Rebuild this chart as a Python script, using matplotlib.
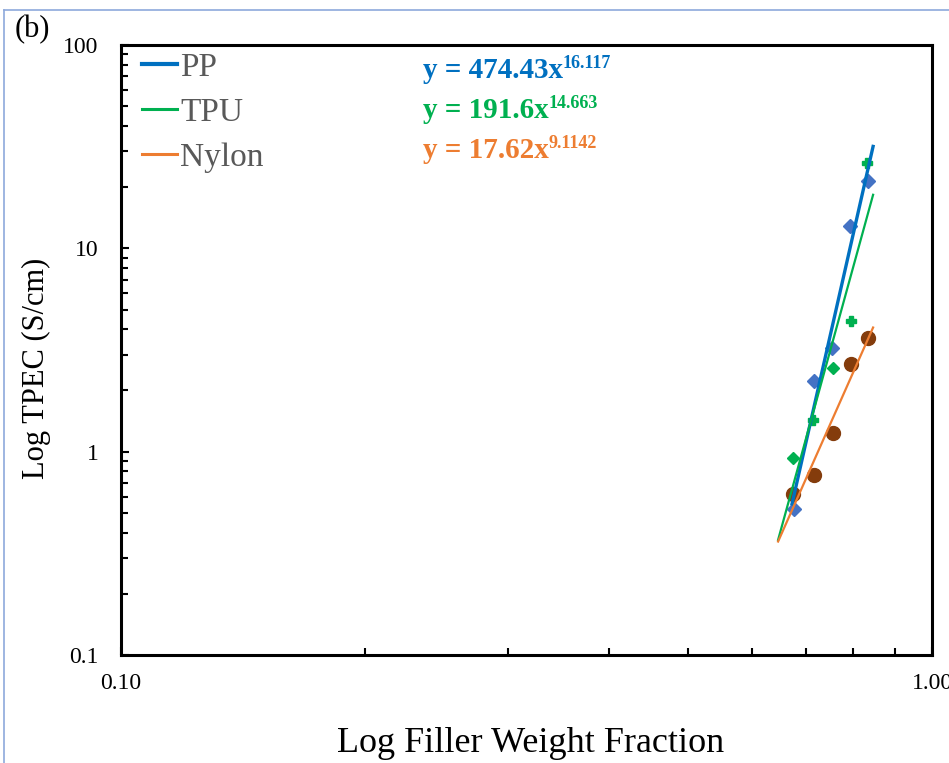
import numpy as np
import matplotlib
matplotlib.use('Agg')
from matplotlib import pyplot as plt
from matplotlib.lines import Line2D
from matplotlib.ticker import FixedLocator, FixedFormatter, LogLocator, NullFormatter

plt.rcParams['font.family'] = ['Liberation Serif', 'DejaVu Serif']

# filler weight fraction / TPEC (S/cm)
pp_x = [0.676, 0.715, 0.753, 0.793, 0.834]
pp_y = [0.52, 2.23, 3.24, 12.9, 21.4]
tpu_x = [0.674, 0.713, 0.755, 0.795, 0.832]
tpu_y = [0.93, 1.43, 2.58, 4.39, 26.3]
nylon_x = [0.674, 0.715, 0.755, 0.795, 0.833]
nylon_y = [0.62, 0.77, 1.24, 2.70, 3.62]

names = ['PP', 'TPU', 'Nylon']
eq_main = ['y = 474.43x', 'y = 191.6x', 'y = 17.62x']
eq_exp = ['16.117', '14.663', '9.1142']
line_cols = ['#0070C0', '#00B050', '#ED7D31']
mark_cols = ['#4472C4', '#00B050', '#843C0C']
# marker shape per point (the TPU points in the original mix two shapes)
markers = [['D'] * 5, ['D', 'P', 'D', 'P', 'P'], ['o'] * 5]
msizes = [7, 6.5, 10]
lws = [2.4, 1.6, 1.6]
# trendline ranges (Excel forecast)
fit_range = [(0.672, 0.846), (0.646, 0.846), (0.646, 0.846)]

fig = plt.figure(figsize=(9.49, 7.63), dpi=100)
ax = fig.add_axes([121 / 949, 1 - 655 / 763, 811 / 949, 610 / 763])

series = [(pp_x, pp_y), (tpu_x, tpu_y), (nylon_x, nylon_y)]
for i, (xs, ys) in enumerate(series):
    for x, y, m in zip(xs, ys, markers[i]):
        ax.plot([x], [y], linestyle='none', marker=m, ms=msizes[i],
                color=mark_cols[i], mec=mark_cols[i], zorder=2)
for i, (xs, ys) in enumerate(series):
    b, loga = np.polyfit(np.log10(xs), np.log10(ys), 1)
    xx = np.linspace(fit_range[i][0], fit_range[i][1], 50)
    ax.plot(xx, 10 ** loga * xx ** b, color=line_cols[i], lw=lws[i], zorder=3)

ax.set_xscale('log')
ax.set_yscale('log')
ax.set_xlim(0.1, 1.0)
ax.set_ylim(0.1, 100)

ax.xaxis.set_major_locator(FixedLocator([0.1, 1.0]))
ax.xaxis.set_major_formatter(FixedFormatter(['0.10', '1.00']))
ax.xaxis.set_minor_locator(LogLocator(base=10, subs=np.arange(2, 10)))
ax.xaxis.set_minor_formatter(NullFormatter())
ax.yaxis.set_major_locator(FixedLocator([0.1, 1, 10, 100]))
ax.yaxis.set_major_formatter(FixedFormatter(['0.1', '1', '10', '100']))
ax.yaxis.set_minor_locator(LogLocator(base=10, subs=np.arange(2, 10)))
ax.yaxis.set_minor_formatter(NullFormatter())

ax.tick_params(which='both', direction='in', width=1.5, top=False, right=False)
ax.tick_params(which='major', length=6)
ax.tick_params(which='minor', length=5)
ax.tick_params(axis='x', which='major', labelsize=17, pad=13)
ax.tick_params(axis='y', which='major', labelsize=17, pad=16)
for s in ax.spines.values():
    s.set_linewidth(2.2)

handles = [Line2D([], [], color=c, lw=w + 0.6) for c, w in zip(line_cols, lws)]
ax.legend(handles, names, loc='upper left',
          bbox_to_anchor=((142 - 121) / 811, (655 - 52) / 610),
          borderpad=0, borderaxespad=0,
          frameon=False, fontsize=24, labelcolor='#595959',
          handlelength=1.05, handletextpad=0.1, labelspacing=0.44)

for i in range(3):
    t = ax.text(423 / 949, 1 - (78 + 40 * i) / 763, eq_main[i],
                transform=fig.transFigure, color=line_cols[i],
                fontsize=21, fontweight='bold', va='baseline')
    ax.annotate(eq_exp[i], xy=(1.0, 0.45), xycoords=t, color=line_cols[i],
                fontsize=13, fontweight='bold', ha='left', va='bottom')

fig.text(531 / 949, 1 - 743 / 763, 'Log Filler Weight Fraction', fontsize=26,
         ha='center', va='center')
fig.text(36 / 949, 1 - 368 / 763, 'Log TPEC (S/cm)', fontsize=22, rotation=90,
         ha='center', va='center')
fig.text(15 / 949, 1 - 30 / 763, '(b)', fontsize=22, va='center')

# light blue frame of the original screenshot
fig.add_artist(Line2D([4 / 949, 4 / 949], [0, 1 - 10 / 763], color='#8EA9DB', lw=1.2))
fig.add_artist(Line2D([4 / 949, 1], [1 - 10 / 763, 1 - 10 / 763], color='#8EA9DB', lw=1.2))

fig.savefig('out.png', dpi=100)
